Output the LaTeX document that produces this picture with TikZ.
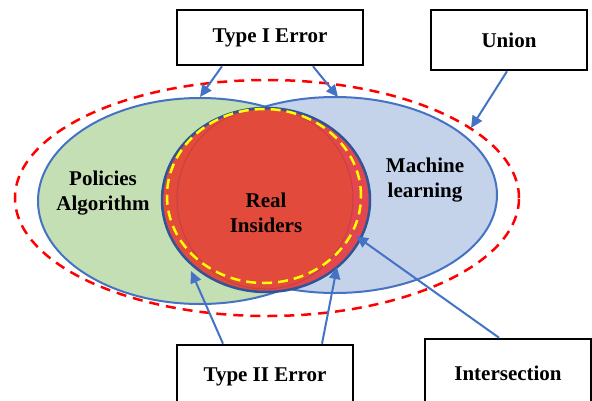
\documentclass[tikz,border=0pt]{standalone}
\usepackage{fontspec}
\setmainfont{Liberation Serif}
\usetikzlibrary{arrows.meta,calc}
\definecolor{greenfill}{HTML}{C5DFB4}
\definecolor{bluefill}{HTML}{C4D2EA}
\definecolor{blueline}{HTML}{4472C4}
\definecolor{navyline}{HTML}{2F5597}
\definecolor{redfill}{HTML}{E24B3C}
\definecolor{pinkfill}{HTML}{E4464F}
\definecolor{innerline}{HTML}{C8403F}
\definecolor{dashred}{HTML}{FF0000}
\definecolor{dashyellow}{HTML}{FFFF00}
\begin{document}
\begin{tikzpicture}[x=1pt,y=-1pt,
  labelbox/.style={draw=black,line width=2.6pt,fill=white,inner sep=0pt,
    font=\fontsize{21}{25}\selectfont\bfseries},
  settext/.style={align=center,inner sep=0pt,font=\fontsize{21}{25}\selectfont\bfseries},
  pointer/.style={draw=blueline,line width=2pt,-{Triangle[length=12pt,width=11pt]}},
  setline/.style={draw=blueline,line width=2pt}]
\useasboundingbox (0,0) rectangle (592,400);
\clip (0,0) rectangle (592,400);

% union dashed ellipse
\draw[dashred,line width=2.5pt,dash pattern=on 10pt off 7pt] (267,198) ellipse [x radius=252pt, y radius=118pt];

% sets
\fill[greenfill] (200,201) ellipse [x radius=162pt, y radius=103pt];
\fill[bluefill] (335,195) ellipse [x radius=162pt, y radius=98pt];
\draw[setline] (200,201) ellipse [x radius=162pt, y radius=103pt];
\draw[setline] (335,195) ellipse [x radius=162pt, y radius=98pt];

% real insiders circle
\fill[redfill] (266,200) ellipse [x radius=104pt, y radius=92pt];
\begin{scope}
  \clip (266,200) ellipse [x radius=104pt, y radius=92pt];
  \fill[pinkfill] (266,100) rectangle (380,300);
\end{scope}
\fill[redfill] (265,199) ellipse [x radius=88pt, y radius=90pt];
\draw[innerline,line width=1pt] (265,199) ellipse [x radius=88pt, y radius=90pt];
\draw[navyline,line width=2.5pt] (266,200) ellipse [x radius=104pt, y radius=92pt];

% yellow dashed
\draw[dashyellow,line width=2.5pt,dash pattern=on 10pt off 6pt] (264,196) ellipse [x radius=97pt, y radius=87pt];

% set labels
\node[settext] (pol) at (103,193) {Policies\\Algorithm};
\node[settext] (ml) at (425,180) {Machine\\learning};
\node[settext] (ri) at (266,213) {Real\\Insiders};

% boxes
\node[labelbox,minimum width=186pt,minimum height=55pt] (t1) at (270,37.5) {Type I Error};
\node[labelbox,minimum width=156pt,minimum height=60pt] (un) at (509,40) {Union};
\node[labelbox,minimum width=176pt,minimum height=64pt] (t2) at (265,377) {Type II Error};
\node[labelbox,minimum width=166pt,minimum height=68pt] (is) at (508,373) {Intersection};

% arrow tips
\coordinate (t1a) at (200,97);
\coordinate (t1b) at (338,97);
\coordinate (una) at (471,128);
\coordinate (t2a) at (191,271);
\coordinate (t2b) at (337,267);
\coordinate (isa) at (356,236);

\draw[pointer] ([xshift=-48pt]t1.south) -- (t1a);
\draw[pointer] ([xshift=43pt]t1.south) -- (t1b);
\draw[pointer] ([xshift=-2pt]un.south) -- (una);
\draw[pointer] ([xshift=-42pt]t2.north) -- (t2a);
\draw[pointer] ([xshift=57pt]t2.north) -- (t2b);
\draw[pointer] ([xshift=-9pt]is.north) -- (isa);
\end{tikzpicture}
\end{document}
